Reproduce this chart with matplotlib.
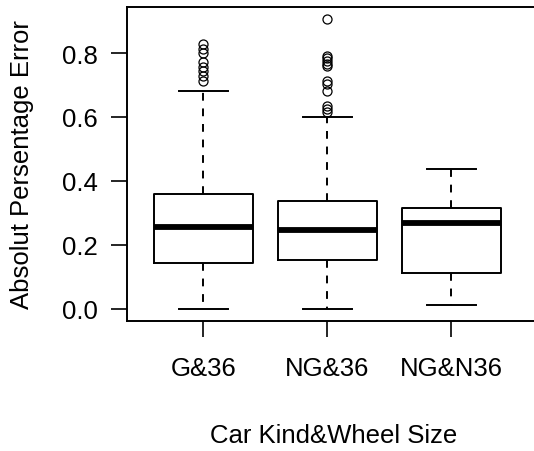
import matplotlib
matplotlib.use('Agg')
from matplotlib import pyplot as plt
import numpy as np

plt.rcParams['font.family'] = ['Liberation Sans', 'DejaVu Sans']

groups = ['G&36', 'NG&36', 'NG&N36']
q1 = [0.142, 0.152, 0.111]
medians = [0.257, 0.247, 0.269]
q3 = [0.358, 0.337, 0.316]
whisker_low = [0.0, 0.0, 0.012]
whisker_high = [0.680, 0.601, 0.437]
outliers = [
    [0.828, 0.813, 0.800, 0.771, 0.755, 0.745, 0.729, 0.713],
    [0.906, 0.792, 0.783, 0.775, 0.767, 0.760, 0.713, 0.703, 0.682,
     0.635, 0.625, 0.615],
    [],
]

stats = []
for i, name in enumerate(groups):
    stats.append({
        'label': name,
        'q1': q1[i],
        'med': medians[i],
        'q3': q3[i],
        'whislo': whisker_low[i],
        'whishi': whisker_high[i],
        'fliers': outliers[i],
    })

fig = plt.figure(figsize=(5.34, 4.52), dpi=100)
ax = fig.add_axes([0.2369, 0.2883, 0.771, 0.6933])

lw = 1.4
ax.bxp(stats, positions=[1, 2, 3], widths=0.8,
       boxprops=dict(color='black', linewidth=lw),
       medianprops=dict(color='black', linewidth=4.2, solid_capstyle='butt'),
       whiskerprops=dict(color='black', linewidth=lw, linestyle=(0, (4, 4))),
       capprops=dict(color='black', linewidth=lw),
       flierprops=dict(marker='o', markerfacecolor='none', markeredgecolor='black',
                       markersize=6.5, markeredgewidth=0.9),
       capwidths=0.4)

ax.set_xlim(0.38, 3.7)
ax.set_ylim(-0.0375, 0.943)
ax.set_yticks([0.0, 0.2, 0.4, 0.6, 0.8])
ax.set_yticklabels(['0.0', '0.2', '0.4', '0.6', '0.8'])
ax.set_xticks([1, 2, 3])
ax.set_xticklabels(groups)
ax.tick_params(axis='both', length=11.5, width=1.2, labelsize=18.5, colors='black')
ax.tick_params(axis='x', pad=14)
ax.tick_params(axis='y', pad=9)
for sp in ax.spines.values():
    sp.set_linewidth(1.4)

ax.set_ylabel('Absolut Persentage Error', fontsize=18.5)
ax.set_xlabel('Car Kind&Wheel Size', fontsize=18.5)
ax.yaxis.set_label_coords(-0.225, 0.5)
ax.xaxis.set_label_coords((334 - 126.5) / 411.7, -0.325)

fig.savefig('out.png', dpi=100)
